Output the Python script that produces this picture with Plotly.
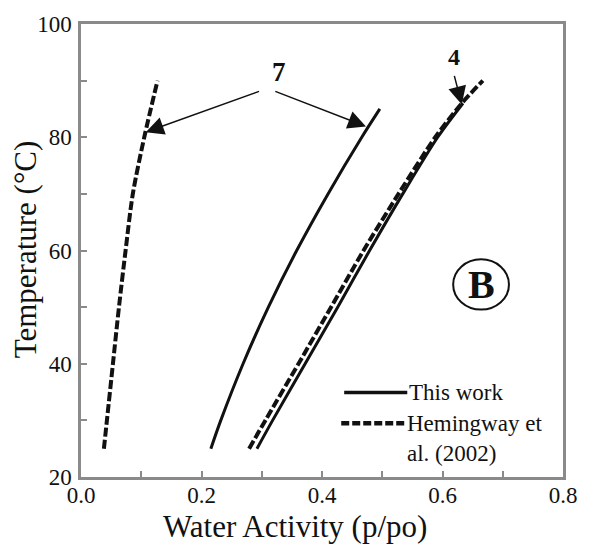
import plotly.graph_objects as go

# Water activity vs temperature for two salt systems (curves 7 and 4)
temp_7_this = [25, 30, 40, 50, 60, 70, 80, 85]
aw_7_this = [0.2155, 0.232, 0.269, 0.311, 0.358, 0.410, 0.466, 0.496]

temp_7_hem = [25, 30, 40, 50, 60, 70, 80, 90]
aw_7_hem = [0.038, 0.043, 0.053, 0.063, 0.074, 0.086, 0.105, 0.127]

temp_4_this = [25, 30, 40, 50, 60, 70, 80, 86]
aw_4_this = [0.292, 0.318, 0.372, 0.426, 0.479, 0.534, 0.592, 0.634]

temp_4_hem = [25, 30, 40, 50, 60, 70, 80, 86, 90]
aw_4_hem = [0.279, 0.306, 0.361, 0.415, 0.469, 0.527, 0.588, 0.632, 0.667]

x_ticks = [0.0, 0.2, 0.4, 0.6, 0.8]
y_ticks = [20, 40, 60, 80, 100]

SERIF = "Liberation Serif"
INK = "#111111"
AXIS = "#8a8a8a"

W, H = 589, 545
L, R, T, B = 81, 570, 21, 477


def px_x(px):
    return (px - L) / (R - L)


def px_y(py):
    return (B - py) / (B - T)


fig = go.Figure()

solid = dict(color=INK, width=3, shape="spline", smoothing=0.8)
dashed = dict(color=INK, width=4, dash="9px,3px", shape="spline", smoothing=0.8)

fig.add_trace(go.Scatter(x=aw_7_hem, y=temp_7_hem, mode="lines", line=dashed))
fig.add_trace(go.Scatter(x=aw_7_this, y=temp_7_this, mode="lines", line=solid))
fig.add_trace(go.Scatter(x=aw_4_this, y=temp_4_this, mode="lines", line=solid))
fig.add_trace(go.Scatter(x=aw_4_hem, y=temp_4_hem, mode="lines", line=dashed))

axis_common = dict(
    showline=True, linecolor=AXIS, linewidth=2.5, mirror=True,
    ticks="inside", ticklen=6, tickwidth=2, tickcolor=AXIS,
    showgrid=False, zeroline=False,
    tickfont=dict(family=SERIF, size=23, color=INK),
)

fig.update_xaxes(range=[0, 0.8], tickvals=x_ticks, tickformat=".1f",
                 minor=dict(dtick=0.1, ticks="inside", ticklen=6,
                            tickwidth=2, tickcolor=AXIS),
                 ticklabelstandoff=-4, **axis_common)
fig.update_yaxes(range=[20, 100], tickvals=y_ticks,
                 minor=dict(dtick=10, ticks="inside", ticklen=6,
                            tickwidth=2, tickcolor=AXIS),
                 ticklabelstandoff=2, **axis_common)

arrow_style = dict(text="", showarrow=True, arrowhead=2, arrowsize=2.4,
                   arrowwidth=1.5, arrowcolor=INK, axref="x", ayref="y")

annotations = [
    # axis titles
    dict(text="Water Activity (p/po)", x=px_x(298), y=px_y(527),
         xref="paper", yref="paper", xanchor="center", yanchor="middle",
         showarrow=False, font=dict(family=SERIF, size=31, color=INK)),
    dict(text="Temperature (°C)", x=px_x(25), y=px_y(248),
         xref="paper", yref="paper", xanchor="center", yanchor="middle",
         showarrow=False, textangle=-90,
         font=dict(family=SERIF, size=31, color=INK)),
    # curve labels
    dict(text="7", x=0.3285, y=91.6, showarrow=False,
         xanchor="center", yanchor="middle",
         font=dict(family=SERIF, size=27, color=INK, weight="bold")),
    dict(text="4", x=0.619, y=94.2, showarrow=False,
         xanchor="center", yanchor="middle",
         font=dict(family=SERIF, size=24, color=INK, weight="bold")),
    # arrows
    dict(x=0.1075, y=80.9, ax=0.298, ay=88.2, **arrow_style),
    dict(x=0.473, y=81.9, ax=0.320, ay=88.2, **arrow_style),
    dict(x=0.632, y=85.8, ax=0.619, ay=91.1, **arrow_style),
    # panel letter
    dict(text="B", x=0.664, y=54, showarrow=False,
         xanchor="center", yanchor="middle",
         font=dict(family=SERIF, size=40, color=INK, weight="bold")),
    # legend text
    dict(text="This work", x=px_x(412), y=px_y(392), xref="paper",
         yref="paper", xanchor="left", yanchor="middle", showarrow=False,
         font=dict(family=SERIF, size=23, color=INK)),
    dict(text="Hemingway et<br>al. (2002)", x=px_x(410), y=px_y(409),
         xref="paper", yref="paper", xanchor="left", yanchor="top",
         align="left", showarrow=False,
         font=dict(family=SERIF, size=23, color=INK)),
]

shapes = [
    dict(type="circle", xref="x", yref="y",
         x0=0.664 - 0.0463, x1=0.664 + 0.0463, y0=54 - 4.44, y1=54 + 4.44,
         line=dict(color=INK, width=2)),
    dict(type="line", xref="paper", yref="paper",
         x0=px_x(348), x1=px_x(412), y0=px_y(392), y1=px_y(392),
         line=dict(color=INK, width=3.5)),
    dict(type="line", xref="paper", yref="paper",
         x0=px_x(345), x1=px_x(410), y0=px_y(423), y1=px_y(423),
         line=dict(color=INK, width=4.5, dash="8px,3px")),
]

fig.update_layout(
    width=W, height=H,
    margin=dict(l=L, r=W - R, t=T, b=H - B, pad=0),
    paper_bgcolor="white", plot_bgcolor="white",
    showlegend=False,
    annotations=annotations, shapes=shapes,
)

fig.write_html("out.html")
